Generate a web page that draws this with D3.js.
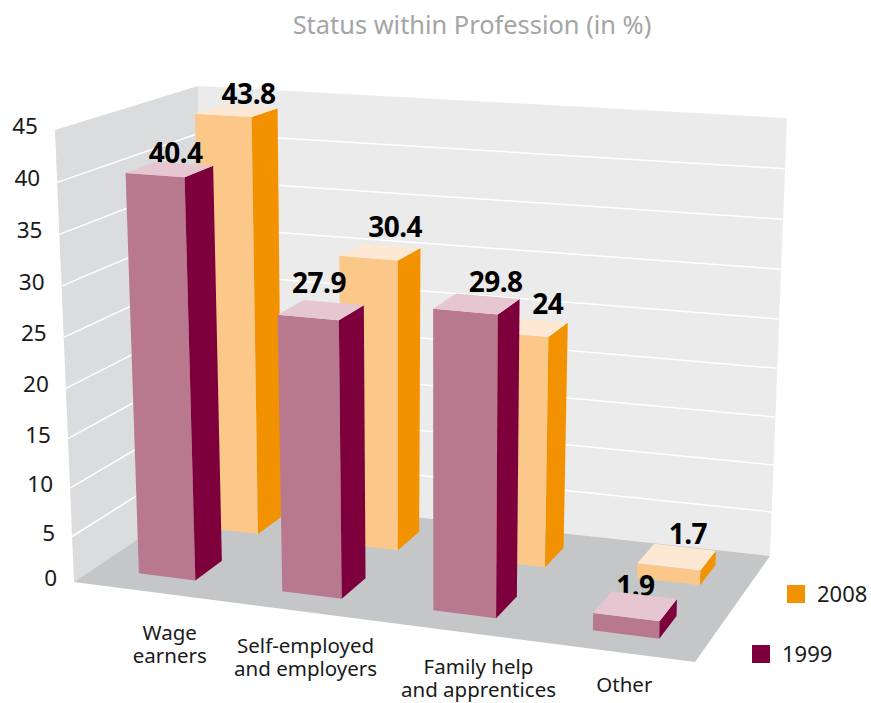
<!DOCTYPE html>
<html>
<head>
<meta charset="utf-8">
<script src="https://cdn.jsdelivr.net/npm/d3@7/dist/d3.min.js"></script>
<style>
body { margin: 0; background: #fff; }
text { font-family: "Noto Sans", sans-serif; }
</style>
</head>
<body>
<svg id="chart" width="871" height="703"></svg>
<script>
const categories = [["Wage", "earners"], ["Self-employed", "and employers"], ["Family help", "and apprentices"], ["Other"]];
const series = ["1999", "2008"];
const values1999 = [40.4, 27.9, 29.8, 1.9];
const values2008 = [43.8, 30.4, 24, 1.7];
const yTicks = [0, 5, 10, 15, 20, 25, 30, 35, 40, 45];

// hand tweaks for the text, the original labels are not placed by any rule
const labelNudge1999 = [[6, -6], [-2, -17], [19, -12], [0, -10]];
const labelNudge2008 = [[12, -7], [15, -15], [20, -13], [11, -13]];
const categoryNudge = [[23, 49], [12, 43], [30, 44], [12, 41]];

const colors = {
    "1999": { front: "#b8788e", side: "#7d003c", top: "#e5c6d1" },
    "2008": { front: "#fbc88a", side: "#f39200", top: "#fde8d3" }
};

// unit square -> quad, corners are front left, front right, back right, back left
function quadMap(q) {
    const [[x0, y0], [x1, y1], [x2, y2], [x3, y3]] = q;
    const dx1 = x1 - x2, dx2 = x3 - x2, sx = x0 - x1 + x2 - x3;
    const dy1 = y1 - y2, dy2 = y3 - y2, sy = y0 - y1 + y2 - y3;
    const det = dx1 * dy2 - dx2 * dy1;
    const g = (sx * dy2 - dx2 * sy) / det;
    const h = (dx1 * sy - sx * dy1) / det;
    const a = x1 - x0 + g * x1, b = x3 - x0 + h * x3;
    const d = y1 - y0 + g * y1, e = y3 - y0 + h * y3;
    return (u, v) => {
        const w = g * u + h * v + 1;
        return [(a * u + b * v + x0) / w, (d * u + e * v + y0) / w];
    };
}

const floorMap = quadMap([[74, 582], [695, 662], [770, 556], [205, 494]]);
// how far the top of the walls sits from the floor, at the same four corners
const rise = [[-19, -452], [11, -484], [17, -438], [-7, -408]];

// the ticks get wider towards the top of the walls, hence the pow scale
const y = d3.scalePow().exponent(1.045).domain([0, 45]).range([0, 1]);
const x = d3.scaleBand().domain(d3.range(categories.length)).range([0.004, 1.004]).paddingInner(0.6).paddingOuter(0.3);
const z = d3.scaleBand().domain(series).range([0, 1]).paddingInner(0.59).paddingOuter(0.295);

function project(u, v, value) {
    const f = floorMap(u, v), t = y(value);
    return [0, 1].map(k => {
        const front = rise[0][k] + (rise[1][k] - rise[0][k]) * u;
        const back = rise[3][k] + (rise[2][k] - rise[3][k]) * u;
        return f[k] + (front + (back - front) * v) * t;
    });
}

const svg = d3.select("#chart");
const pts = a => a.map(p => p.join(",")).join(" ");

svg.append("text")
    .attr("x", 472).attr("y", 34)
    .attr("text-anchor", "middle")
    .attr("font-size", "25.4px")
    .attr("fill", "#a3a5a7")
    .text("Status within Profession (in %)");

// walls and floor
svg.append("polygon").attr("fill", "#ebebeb")
    .attr("points", pts([project(0, 1, 0), project(1, 1, 0), project(1, 1, 45), project(0, 1, 45)]));
svg.append("polygon").attr("fill", "#dadcdd")
    .attr("points", pts([project(0, 0, 0), project(0, 1, 0), project(0, 1, 45), project(0, 0, 45)]));
svg.append("polygon").attr("fill", "#c4c6c8")
    .attr("points", pts([project(0, 0, 0), project(1, 0, 0), project(1, 1, 0), project(0, 1, 0)]));

// gridlines run along both walls
svg.append("g").selectAll("polyline")
    .data(yTicks.slice(1, -1))
    .enter().append("polyline")
    .attr("fill", "none")
    .attr("stroke", "#ffffff")
    .attr("stroke-width", 1.5)
    .attr("points", d => pts([project(0, 0, d), project(0, 1, d), project(1, 1, d)]));

svg.append("g").selectAll("text")
    .data(yTicks)
    .enter().append("text")
    .attr("x", d => project(0, 0, d)[0] - 17)
    .attr("y", d => project(0, 0, d)[1] + 4)
    .attr("text-anchor", "end")
    .attr("font-size", "22.5px")
    .attr("fill", "#1a1a1a")
    .text(d => d);

// the back row first, the labels go under their own bar (see 1.9)
function drawRow(name, values, nudge) {
    const v0 = z(name), v1 = v0 + z.bandwidth();
    const rows = values.map((value, i) => ({ value, i, u0: x(i), u1: x(i) + x.bandwidth() }));
    const g = svg.append("g").attr("class", "row-" + name);
    const bars = g.selectAll("g").data(rows).enter().append("g");

    bars.append("text")
        .attr("x", d => project(d.u0 + x.bandwidth() / 2, (v0 + v1) / 2, d.value)[0] + nudge[d.i][0])
        .attr("y", d => project(d.u0 + x.bandwidth() / 2, (v0 + v1) / 2, d.value)[1] + nudge[d.i][1])
        .attr("text-anchor", "middle")
        .attr("font-size", "28px")
        .attr("font-weight", 700)
        .attr("letter-spacing", "-0.5px")
        .attr("fill", "#000000")
        .text(d => d.value);

    bars.append("polygon").attr("fill", colors[name].front)
        .attr("points", d => pts([project(d.u0, v0, 0), project(d.u1, v0, 0), project(d.u1, v0, d.value), project(d.u0, v0, d.value)]));
    bars.append("polygon").attr("fill", colors[name].side)
        .attr("points", d => pts([project(d.u1, v0, 0), project(d.u1, v1, 0), project(d.u1, v1, d.value), project(d.u1, v0, d.value)]));
    bars.append("polygon").attr("fill", colors[name].top)
        .attr("points", d => pts([project(d.u0, v0, d.value), project(d.u1, v0, d.value), project(d.u1, v1, d.value), project(d.u0, v1, d.value)]));
}

drawRow("2008", values2008, labelNudge2008);
drawRow("1999", values1999, labelNudge1999);

// category labels
const cat = svg.append("g").selectAll("text")
    .data(categories)
    .enter().append("text")
    .attr("text-anchor", "middle")
    .attr("font-size", "20.5px")
    .attr("fill", "#1a1a1a");

cat.selectAll("tspan")
    .data((d, i) => d.map((line, k) => {
        const p = project(x(i) + x.bandwidth() / 2, 0, 0);
        return { line, x: p[0] + categoryNudge[i][0], y: p[1] + categoryNudge[i][1] + k * 23 };
    }))
    .enter().append("tspan")
    .attr("x", d => d.x)
    .attr("y", d => d.y)
    .text(d => d.line);

// legend
const legendItems = [
    { name: "2008", x: 787, y: 585 },
    { name: "1999", x: 752, y: 645 }
];
const legend = svg.append("g").selectAll("g")
    .data(legendItems)
    .enter().append("g")
    .attr("transform", d => "translate(" + d.x + "," + d.y + ")");
legend.append("rect")
    .attr("width", 18).attr("height", 18)
    .attr("fill", d => colors[d.name].side);
legend.append("text")
    .attr("x", 30).attr("y", 17)
    .attr("font-size", "22px")
    .attr("fill", "#1a1a1a")
    .text(d => d.name);
</script>
</body>
</html>
